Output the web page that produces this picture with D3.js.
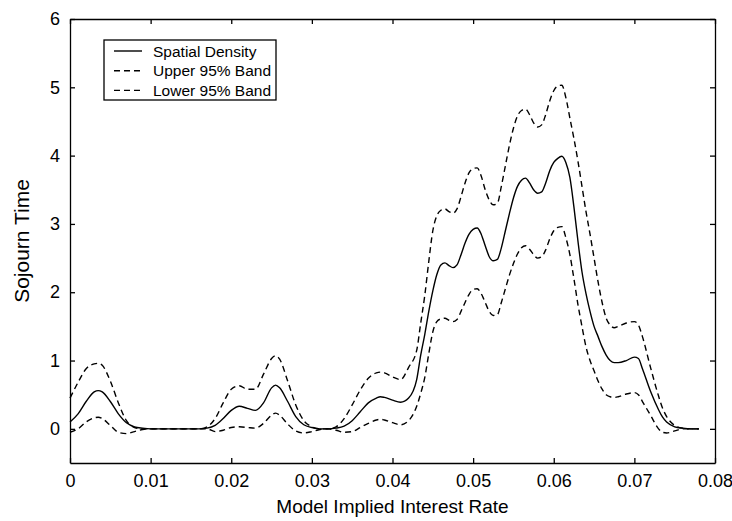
<!DOCTYPE html>
<html lang="en">
<head>
  <meta charset="UTF-8">
  <script src="https://d3js.org/d3.v7.min.js"></script>
  <title>Sojourn Time</title>
  <style>
    body { margin: 0; background: white; }
    text { font-family: "Liberation Sans", Arial, sans-serif; fill: black; }
    .axis path, .axis line { stroke: black; stroke-width: 1.3; }
    .axis text { font-size: 18px; }
    .curve { fill: none; stroke: black; stroke-width: 1.4; }
    .band { stroke-dasharray: 6,4; }
  </style>
</head>
<body>
<div id="chart"></div>
<script>
// rate grid (shared by the three curves)
const rates = [0, .001, .002, .003, .0035, .004, .005, .006, .007, .008, .009, .010,
  .011, .012, .013, .014, .015, .016, .017, .018, .019, .020, .021, .022, .023, .024,
  .025, .0255, .026, .027, .028, .029, .030, .031, .032, .033, .034, .035, .036, .037,
  .038, .0385, .039, .040, .041, .042, .043, .0435, .044, .0445, .045, .0455, .046,
  .0465, .047, .0475, .048, .0485, .049, .0495, .050, .0505, .051, .0515, .052, .0525,
  .053, .0535, .054, .0545, .055, .0555, .056, .0565, .057, .0575, .058, .0585, .059,
  .0595, .060, .0605, .061, .0615, .062, .0625, .063, .0635, .064, .0645, .065, .0655,
  .066, .0665, .067, .0675, .068, .069, .070, .0705, .071, .072, .073, .0735, .074,
  .075, .076, .077, .078];

const density = [0.10, 0.22, 0.40, 0.54, 0.56, 0.54, 0.40, 0.22, 0.09, 0.03, 0.01, 0,
  0, 0, 0, 0, 0, 0, 0.01, 0.05, 0.15, 0.27, 0.33, 0.30, 0.27, 0.38,
  0.60, 0.64, 0.60, 0.40, 0.18, 0.06, 0.02, 0, 0, 0.01, 0.04, 0.12, 0.25, 0.38,
  0.45, 0.47, 0.46, 0.42, 0.39, 0.45, 0.72, 1.08, 1.38, 1.72, 2.02, 2.26, 2.40,
  2.43, 2.39, 2.36, 2.40, 2.55, 2.72, 2.85, 2.92, 2.94, 2.85, 2.68, 2.52, 2.46,
  2.48, 2.65, 2.90, 3.15, 3.38, 3.55, 3.64, 3.67, 3.60, 3.50, 3.45, 3.47, 3.60,
  3.78, 3.90, 3.96, 3.99, 3.90, 3.68, 3.25, 2.75, 2.30, 1.98, 1.72, 1.50, 1.35,
  1.20, 1.08, 1.00, 0.97, 0.97, 1.00, 1.05, 1.03, 0.88, 0.55, 0.28, 0.17, 0.10,
  0.03, 0.01, 0, 0];

const upper = [0.45, 0.68, 0.88, 0.95, 0.96, 0.93, 0.70, 0.38, 0.12, 0.02, 0, 0,
  0, 0, 0, 0, 0, 0, 0.03, 0.15, 0.38, 0.58, 0.63, 0.58, 0.58, 0.80,
  1.03, 1.07, 1.02, 0.70, 0.35, 0.12, 0.03, 0, 0, 0.03, 0.15, 0.35, 0.57, 0.74,
  0.82, 0.83, 0.82, 0.76, 0.72, 0.90, 1.15, 1.55, 1.95, 2.45, 2.90, 3.12, 3.20,
  3.22, 3.18, 3.16, 3.22, 3.40, 3.60, 3.75, 3.81, 3.82, 3.70, 3.50, 3.35, 3.28,
  3.30, 3.55, 3.85, 4.15, 4.40, 4.58, 4.66, 4.68, 4.60, 4.48, 4.42, 4.45, 4.60,
  4.80, 4.95, 5.02, 5.03, 4.85, 4.55, 4.25, 3.92, 3.55, 3.18, 2.85, 2.50, 2.15,
  1.85, 1.62, 1.52, 1.48, 1.50, 1.55, 1.57, 1.52, 1.35, 0.90, 0.48, 0.30, 0.18,
  0.05, 0.01, 0, 0];

const lower = [-0.05, 0, 0.10, 0.16, 0.17, 0.15, 0.05, -0.05, -0.07, -0.04, -0.01, 0,
  0, 0, 0, 0, 0, 0, 0, -0.04, -0.02, 0.02, 0.03, 0.02, 0.01, 0.08,
  0.20, 0.23, 0.20, 0.07, -0.03, -0.06, -0.04, -0.01, 0, -0.02, -0.05, -0.04, 0.02, 0.08,
  0.13, 0.14, 0.13, 0.09, 0.06, 0.12, 0.33, 0.52, 0.75, 1.10, 1.42, 1.57, 1.61,
  1.62, 1.59, 1.57, 1.60, 1.72, 1.85, 1.97, 2.04, 2.05, 1.98, 1.85, 1.72, 1.66,
  1.67, 1.85, 2.05, 2.25, 2.42, 2.56, 2.65, 2.68, 2.63, 2.55, 2.50, 2.52, 2.62,
  2.78, 2.90, 2.95, 2.96, 2.80, 2.55, 2.20, 1.82, 1.50, 1.20, 1.00, 0.85, 0.70,
  0.58, 0.50, 0.47, 0.46, 0.47, 0.51, 0.53, 0.50, 0.40, 0.20, 0.00, -0.05, -0.06,
  -0.03, 0, 0, 0];

const xTicks = [0, 0.01, 0.02, 0.03, 0.04, 0.05, 0.06, 0.07, 0.08];
const yTicks = [0, 1, 2, 3, 4, 5, 6];
const legendLabels = ["Spatial Density", "Upper 95% Band", "Lower 95% Band"];

const W = 732, H = 521;
const margin = { top: 19, right: 17, bottom: 58, left: 70 };
const width = W - margin.left - margin.right;
const height = H - margin.top - margin.bottom;

const svg = d3.select("#chart").append("svg")
  .attr("width", W).attr("height", H);
const g = svg.append("g")
  .attr("transform", `translate(${margin.left},${margin.top})`);

const x = d3.scaleLinear().domain([0, 0.08]).range([0, width]);
const y = d3.scaleLinear().domain([-0.5, 6]).range([height, 0]);

const fmt = d => d === 0 ? "0" : String(+d.toFixed(2));

// axes, ticks pointing inward on all four sides
g.append("g").attr("class", "axis")
  .attr("transform", `translate(0,${height})`)
  .call(d3.axisBottom(x).tickValues(xTicks).tickFormat(fmt).tickSizeInner(-5).tickSizeOuter(0).tickPadding(11));
g.append("g").attr("class", "axis")
  .call(d3.axisTop(x).tickValues(xTicks).tickFormat("").tickSizeInner(-5).tickSizeOuter(0));
g.append("g").attr("class", "axis")
  .call(d3.axisLeft(y).tickValues(yTicks).tickFormat(d3.format("d")).tickSizeInner(-5).tickSizeOuter(0).tickPadding(10));
g.append("g").attr("class", "axis")
  .attr("transform", `translate(${width},0)`)
  .call(d3.axisRight(y).tickValues(yTicks).tickFormat("").tickSizeInner(-5).tickSizeOuter(0));
g.selectAll(".axis .domain").attr("stroke-width", 1.5);

const line = vals => d3.line()
  .x((d, i) => x(rates[i]))
  .y(d => y(d))
  .curve(d3.curveMonotoneX)(vals);

g.append("path").attr("class", "curve band").attr("d", line(upper));
g.append("path").attr("class", "curve band").attr("d", line(lower));
g.append("path").attr("class", "curve").attr("d", line(density));

// legend
const legend = g.append("g").attr("transform", "translate(34,21)");
legend.append("rect")
  .attr("width", 172).attr("height", 60)
  .attr("fill", "white").attr("stroke", "black").attr("stroke-width", 1.3);
legendLabels.forEach((label, i) => {
  const ly = 11 + i * 19.7;
  legend.append("line")
    .attr("class", i === 0 ? "curve" : "curve band")
    .attr("x1", 10).attr("x2", 38).attr("y1", ly).attr("y2", ly);
  legend.append("text")
    .attr("x", 49).attr("y", ly + 5.5)
    .style("font-size", "15.5px")
    .text(label);
});

// axis titles
svg.append("text")
  .attr("x", margin.left + width / 2).attr("y", 513)
  .attr("text-anchor", "middle")
  .style("font-size", "19px")
  .text("Model Implied Interest Rate");
svg.append("text")
  .attr("transform", `translate(29,${margin.top + y(2.75)}) rotate(-90)`)
  .attr("text-anchor", "middle")
  .style("font-size", "21px")
  .text("Sojourn Time");
</script>
</body>
</html>
